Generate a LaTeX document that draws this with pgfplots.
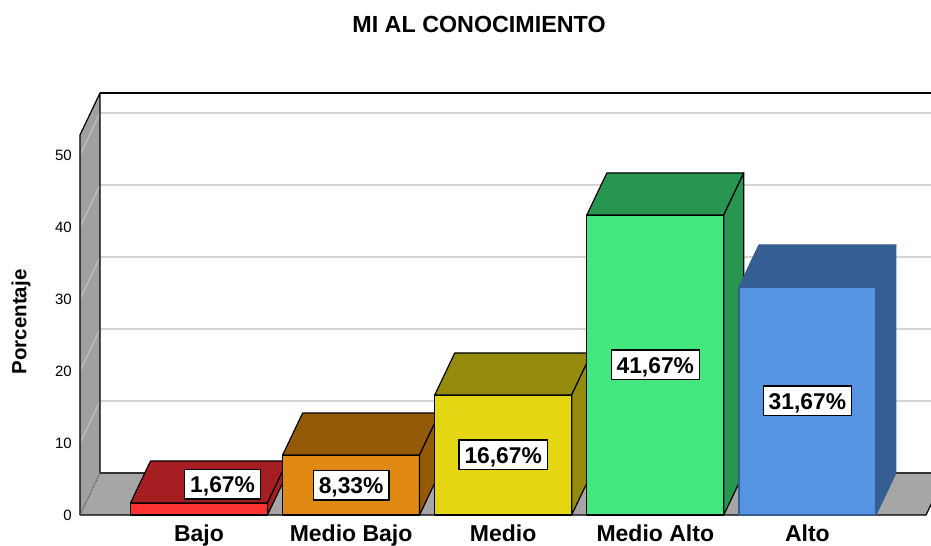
\documentclass[border=0pt]{standalone}
\usepackage{pgfplots}
\pgfplotsset{compat=1.18}
\usepackage{fontspec}
\setmainfont{Liberation Sans}
\definecolor{bajoF}{HTML}{FF3333}
\definecolor{bajoT}{HTML}{A41E22}
\definecolor{mbF}{HTML}{E08A14}
\definecolor{mbT}{HTML}{955A08}
\definecolor{medF}{HTML}{E4D612}
\definecolor{medT}{HTML}{948B0C}
\definecolor{maF}{HTML}{42E87E}
\definecolor{maT}{HTML}{289550}
\definecolor{altF}{HTML}{5494E3}
\definecolor{altT}{HTML}{355E93}
\definecolor{wallgray}{HTML}{A0A0A0}
\definecolor{floorgray}{HTML}{A6A6A6}
\definecolor{gridgray}{HTML}{D4D4D4}
\definecolor{sidegrid}{HTML}{C4C4C4}
\begin{document}
\begin{tikzpicture}
\begin{axis}[
  scale only axis, width=931pt, height=545pt,
  xmin=-1.3083, xmax=4.8126, ymin=-4.1667, ymax=71.5278,
  axis line style={draw=none},
  major tick length=0pt,
  xtick={0,1,2,3,4},
  xticklabels={Bajo,Medio Bajo,Medio,Medio Alto,Alto},
  xticklabel style={font=\fontsize{23}{27}\selectfont\bfseries, anchor=base, yshift=4pt, inner sep=0pt},
  ytick={0,10,20,30,40,50},
  yticklabel style={font=\fontsize{15}{17}\selectfont, anchor=east, xshift=72pt, inner sep=0pt},
  /pgf/number format/assume math mode=true,
  every axis plot/.append style={line width=1.2pt, line join=round},
]
% back wall gridlines
\draw[gridgray, line width=1.5pt] (axis cs:-0.6509,15.833) -- (axis cs:5,15.833);
\draw[gridgray, line width=1.5pt] (axis cs:-0.6509,25.833) -- (axis cs:5,25.833);
\draw[gridgray, line width=1.5pt] (axis cs:-0.6509,35.833) -- (axis cs:5,35.833);
\draw[gridgray, line width=1.5pt] (axis cs:-0.6509,45.833) -- (axis cs:5,45.833);
\draw[gridgray, line width=1.5pt] (axis cs:-0.6509,55.833) -- (axis cs:5,55.833);
\draw[black, line width=1.2pt] (axis cs:-0.6509,58.61) -- (axis cs:5,58.61);
% side wall
\fill[wallgray] (axis cs:-0.7824,0) -- (axis cs:-0.6509,5.833) -- (axis cs:-0.6509,58.61) -- (axis cs:-0.7824,52.78) -- cycle;
\draw[sidegrid, line width=1pt] (axis cs:-0.7824,10) -- (axis cs:-0.6509,15.833);
\draw[sidegrid, line width=1pt] (axis cs:-0.7824,20) -- (axis cs:-0.6509,25.833);
\draw[sidegrid, line width=1pt] (axis cs:-0.7824,30) -- (axis cs:-0.6509,35.833);
\draw[sidegrid, line width=1pt] (axis cs:-0.7824,40) -- (axis cs:-0.6509,45.833);
\draw[sidegrid, line width=1pt] (axis cs:-0.7824,50) -- (axis cs:-0.6509,55.833);
\draw[black, line width=1.2pt, line join=round] (axis cs:-0.7824,0) -- (axis cs:-0.7824,52.78) -- (axis cs:-0.6509,58.61) -- (axis cs:-0.6509,5.833);
% floor
\fill[floorgray] (axis cs:-0.7824,0) -- (axis cs:4.780,0) -- (axis cs:4.9115,5.833) -- (axis cs:-0.6509,5.833) -- cycle;
\draw[black!80, line width=1.2pt] (axis cs:-0.6509,5.833) -- (axis cs:4.9115,5.833);
\draw[black, line width=1.2pt] (axis cs:-0.7824,0) -- (axis cs:4.780,0) -- (axis cs:4.9115,5.833);
\draw[black!70, line width=1pt, densely dotted] (axis cs:-0.7824,0) -- (axis cs:-0.6509,5.833);
% Bajo 1.67
\addplot[draw=black, fill=bajoF] coordinates {(-0.45,0) (0.45,0) (0.45,1.67) (-0.45,1.67)} -- cycle;
\addplot[draw=black, fill=bajoT] coordinates {(-0.45,1.67) (0.45,1.67) (0.5815,7.503) (-0.3185,7.503)} -- cycle;
\addplot[draw=black, fill=bajoT] coordinates {(0.45,0) (0.5815,5.833) (0.5815,7.503) (0.45,1.67)} -- cycle;
% Medio Bajo 8.33
\addplot[draw=black, fill=mbF] coordinates {(0.55,0) (1.45,0) (1.45,8.33) (0.55,8.33)} -- cycle;
\addplot[draw=black, fill=mbT] coordinates {(0.55,8.33) (1.45,8.33) (1.5815,14.163) (0.6815,14.163)} -- cycle;
\addplot[draw=black, fill=mbT] coordinates {(1.45,0) (1.5815,5.833) (1.5815,14.163) (1.45,8.33)} -- cycle;
% Medio 16.67
\addplot[draw=black, fill=medF] coordinates {(1.55,0) (2.45,0) (2.45,16.67) (1.55,16.67)} -- cycle;
\addplot[draw=black, fill=medT] coordinates {(1.55,16.67) (2.45,16.67) (2.5815,22.503) (1.6815,22.503)} -- cycle;
\addplot[draw=black, fill=medT] coordinates {(2.45,0) (2.5815,5.833) (2.5815,22.503) (2.45,16.67)} -- cycle;
% Medio Alto 41.67
\addplot[draw=black, fill=maF] coordinates {(2.55,0) (3.45,0) (3.45,41.67) (2.55,41.67)} -- cycle;
\addplot[draw=black, fill=maT] coordinates {(2.55,41.67) (3.45,41.67) (3.5815,47.503) (2.6815,47.503)} -- cycle;
\addplot[draw=black, fill=maT] coordinates {(3.45,0) (3.5815,5.833) (3.5815,47.503) (3.45,41.67)} -- cycle;
% Alto 31.67
\addplot[draw=altT, fill=altF] coordinates {(3.55,0) (4.45,0) (4.45,31.67) (3.55,31.67)} -- cycle;
\addplot[draw=altT, fill=altT] coordinates {(3.55,31.67) (4.45,31.67) (4.5815,37.503) (3.6815,37.503)} -- cycle;
\addplot[draw=altT, fill=altT] coordinates {(4.45,0) (4.5815,5.833) (4.5815,37.503) (4.45,31.67)} -- cycle;
% value labels
\tikzset{vlab/.style={draw=black, fill=white, line width=1.2pt, font=\fontsize{22.8}{27}\selectfont\bfseries, text height=16.2pt, text depth=0pt, inner xsep=5.5pt, inner ysep=6.8pt, anchor=center}}
\node[vlab] at (axis cs:0.155,4.3) {1,67\%};
\node[vlab] at (axis cs:1,4.165) {8,33\%};
\node[vlab] at (axis cs:2,8.335) {16,67\%};
\node[vlab] at (axis cs:3,20.835) {41,67\%};
\node[vlab] at (axis cs:4,15.835) {31,67\%};
% title and y label
\node[anchor=base, font=\fontsize{23.3}{27}\selectfont\bfseries, inner sep=0pt] at (axis cs:1.841,67.04) {MI AL CONOCIMIENTO};
\node[anchor=center, rotate=90, font=\fontsize{20.5}{24}\selectfont\bfseries, inner sep=0pt] at (axis cs:-1.170,26.81) {Porcentaje};
\end{axis}
\pgfresetboundingbox
\path[use as bounding box] (current axis.south west) rectangle (current axis.north east);
\end{tikzpicture}
\end{document}
